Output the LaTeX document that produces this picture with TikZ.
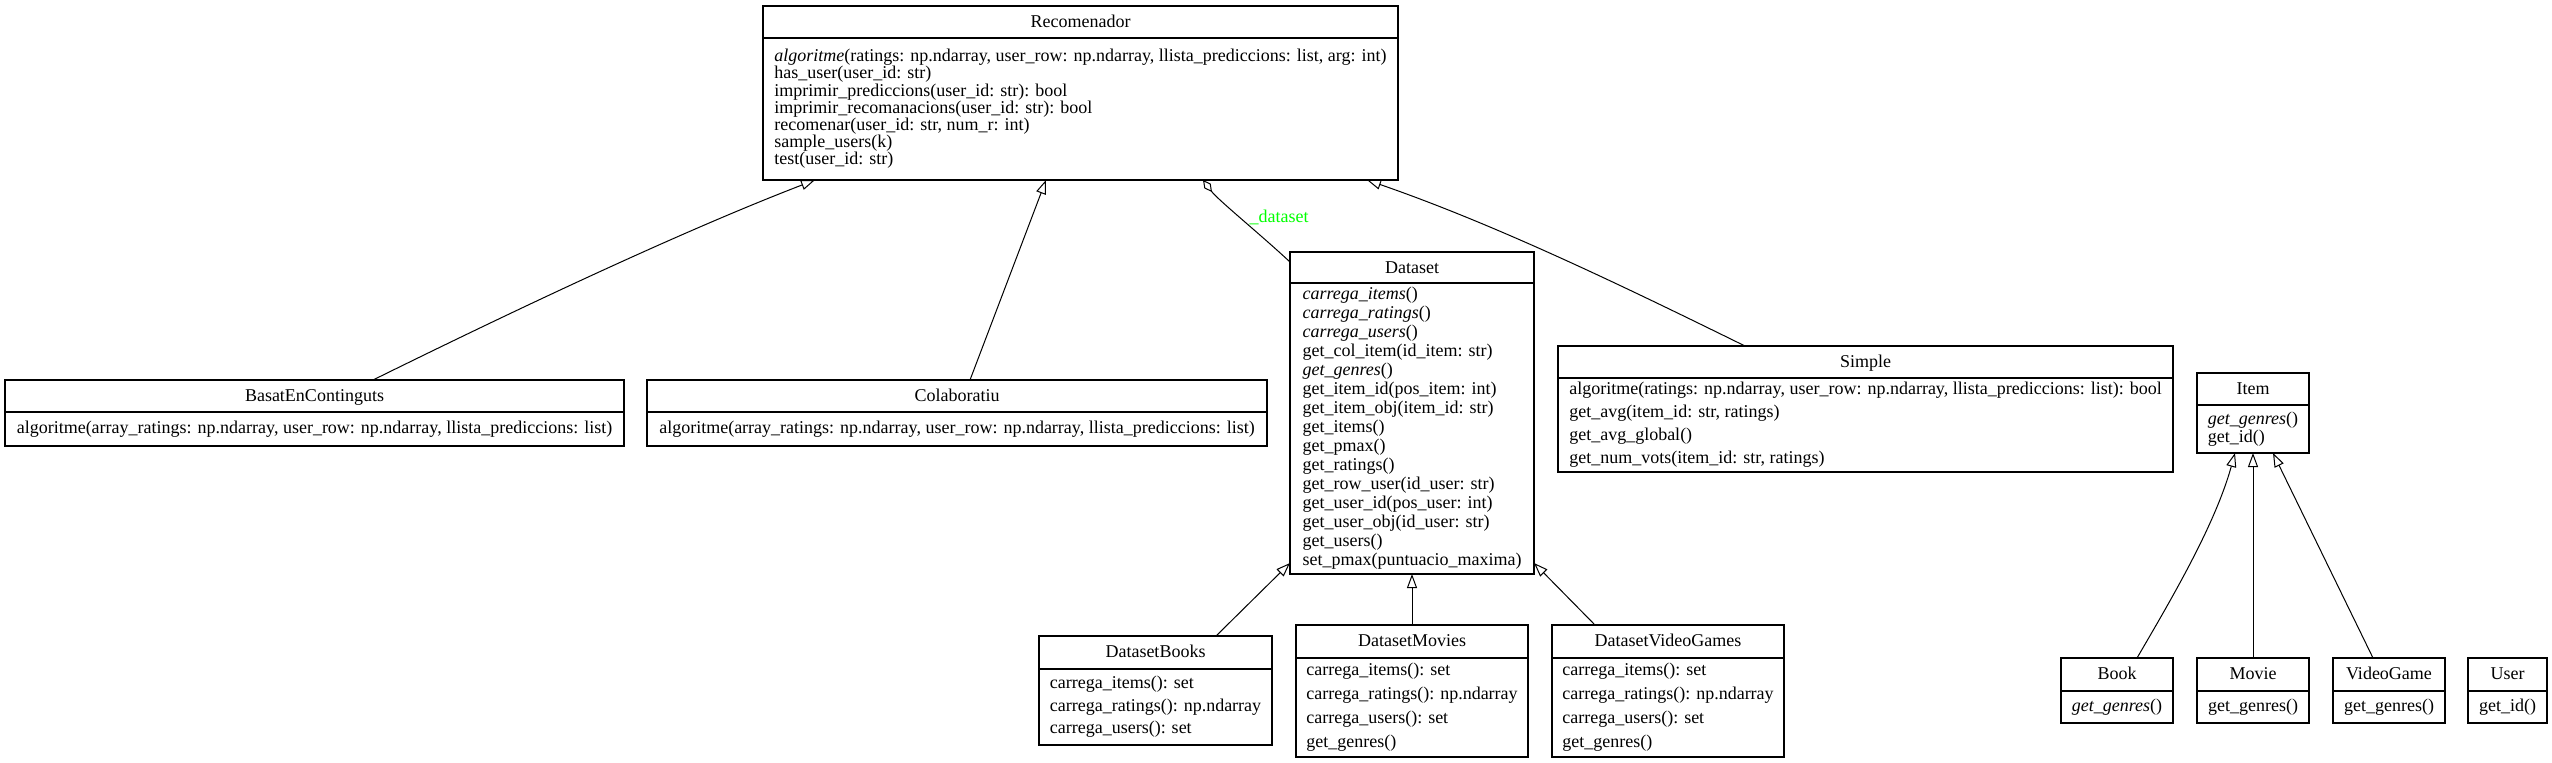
\documentclass[tikz,border=0pt]{standalone}
\usepackage{fontspec}
\setmainfont{Liberation Serif}
\usetikzlibrary{arrows.meta,calc}
\definecolor{lblgreen}{RGB}{0,255,0}
\tikzset{
  cls/.style={draw=black, line width=1.1pt, inner sep=0pt, outer sep=0pt, anchor=north west, fill=white},
  sepline/.style={line width=1.7pt, black},
  ttl/.style={font=\fontsize{18}{21}\selectfont, inner sep=0pt},
  mth/.style={align=left, inner sep=0pt},
  gen/.style={line width=1pt, -{Triangle[open, length=14pt, width=10pt, line width=1pt]}},
  agg/.style={line width=1pt, {Diamond[open, length=15pt, width=8pt, line width=1pt]}-},
  lbl/.style={font=\fontsize{18}{21}\selectfont, text=lblgreen, inner sep=0pt}
}
\newcommand{\umlclass}[9]{%
  \node[cls, minimum width=#4pt, minimum height=#5pt] (#1) at (#2,#3) {};
  \draw[sepline] ([yshift=-#6pt]#1.north west) -- ([yshift=-#6pt]#1.north east);
  \node[ttl, anchor=base] (#1-t) at ([yshift=-21pt]#1.north) {#7};
  \node[mth, font={\fontsize{18}{#8}\selectfont\lineskiplimit=-30pt}] (#1-m) at ($([yshift=-#6pt]#1.north)!0.5!(#1.south)$) {#9};
}
\begin{document}
\begin{tikzpicture}[x=1pt, y=-1pt]
\fill[white] (0,0) rectangle (2552,763);
\useasboundingbox (0,0) rectangle (2552,763);

\umlclass{rec}{763}{6}{635}{174}{32}{Recomenador}{17.2}{%
\textit{algoritme}(ratings: np.ndarray, user\_row: np.ndarray, llista\_prediccions: list, arg: int)\\
has\_user(user\_id: str)\\
imprimir\_prediccions(user\_id: str): bool\\
imprimir\_recomanacions(user\_id: str): bool\\
recomenar(user\_id: str, num\_r: int)\\
sample\_users(k)\\
test(user\_id: str)}

\umlclass{basat}{5}{380}{619}{66}{32}{BasatEnContinguts}{20}{%
algoritme(array\_ratings: np.ndarray, user\_row: np.ndarray, llista\_prediccions: list)}

\umlclass{colab}{647}{380}{620}{66}{32}{Colaboratiu}{20}{%
algoritme(array\_ratings: np.ndarray, user\_row: np.ndarray, llista\_prediccions: list)}

\umlclass{ds}{1290}{252}{244}{322}{31}{Dataset}{19}{%
\textit{carrega\_items}()\\
\textit{carrega\_ratings}()\\
\textit{carrega\_users}()\\
get\_col\_item(id\_item: str)\\
\textit{get\_genres}()\\
get\_item\_id(pos\_item: int)\\
get\_item\_obj(item\_id: str)\\
get\_items()\\
get\_pmax()\\
get\_ratings()\\
get\_row\_user(id\_user: str)\\
get\_user\_id(pos\_user: int)\\
get\_user\_obj(id\_user: str)\\
get\_users()\\
set\_pmax(puntuacio\_maxima)}

\umlclass{simple}{1558}{346}{615}{126}{32}{Simple}{23}{%
algoritme(ratings: np.ndarray, user\_row: np.ndarray, llista\_prediccions: list): bool\\
get\_avg(item\_id: str, ratings)\\
get\_avg\_global()\\
get\_num\_vots(item\_id: str, ratings)}

\umlclass{item}{2197}{373}{112}{80}{32}{Item}{18}{%
\textit{get\_genres}()\\
get\_id()}

\umlclass{dbooks}{1039}{636}{233}{109}{33}{DatasetBooks}{22.5}{%
carrega\_items(): set\\
carrega\_ratings(): np.ndarray\\
carrega\_users(): set}

\umlclass{dmov}{1296}{625}{232}{132}{33}{DatasetMovies}{24}{%
carrega\_items(): set\\
carrega\_ratings(): np.ndarray\\
carrega\_users(): set\\
get\_genres()}

\umlclass{dvg}{1552}{625}{232}{132}{33}{DatasetVideoGames}{24}{%
carrega\_items(): set\\
carrega\_ratings(): np.ndarray\\
carrega\_users(): set\\
get\_genres()}

\umlclass{book}{2061}{658}{112}{65}{33}{Book}{20}{\textit{get\_genres}()}
\umlclass{movie}{2197}{658}{112}{65}{33}{Movie}{20}{get\_genres()}
\umlclass{vg}{2333}{658}{112}{65}{33}{VideoGame}{20}{get\_genres()}
\umlclass{user}{2468}{658}{79}{65}{33}{User}{20}{get\_id()}

\draw[gen] ([xshift=368pt]basat.north west) .. controls (523,306) and (685,230) .. ([xshift=52pt]rec.south west);
\draw[gen] ([xshift=323pt]colab.north west) -- ([xshift=283pt]rec.south west);
\draw[agg] ([xshift=440pt]rec.south west) .. controls (1218,200) and (1260,234) .. ([yshift=-10pt]ds.north west);
\draw[gen] ([xshift=187pt]simple.north west) .. controls (1625,287) and (1497,225) .. ([xshift=604pt]rec.south west);
\draw[gen] ([xshift=177pt]dbooks.north west) -- ([yshift=11pt]ds.south west);
\draw[gen] (dmov.north) -- (ds.south);
\draw[gen] ([xshift=43pt]dvg.north west) -- ([yshift=11pt]ds.south east);
\draw[gen] ([xshift=76pt]book.north west) .. controls (2172,598) and (2215,525) .. ([xshift=38pt]item.south west);
\draw[gen] (movie.north) -- (item.south);
\draw[gen] ([xshift=40pt]vg.north west) -- ([xshift=76pt]item.south west);

\node[lbl, anchor=base] (dslbl) at (1279,222) {\_dataset};
\end{tikzpicture}
\end{document}
